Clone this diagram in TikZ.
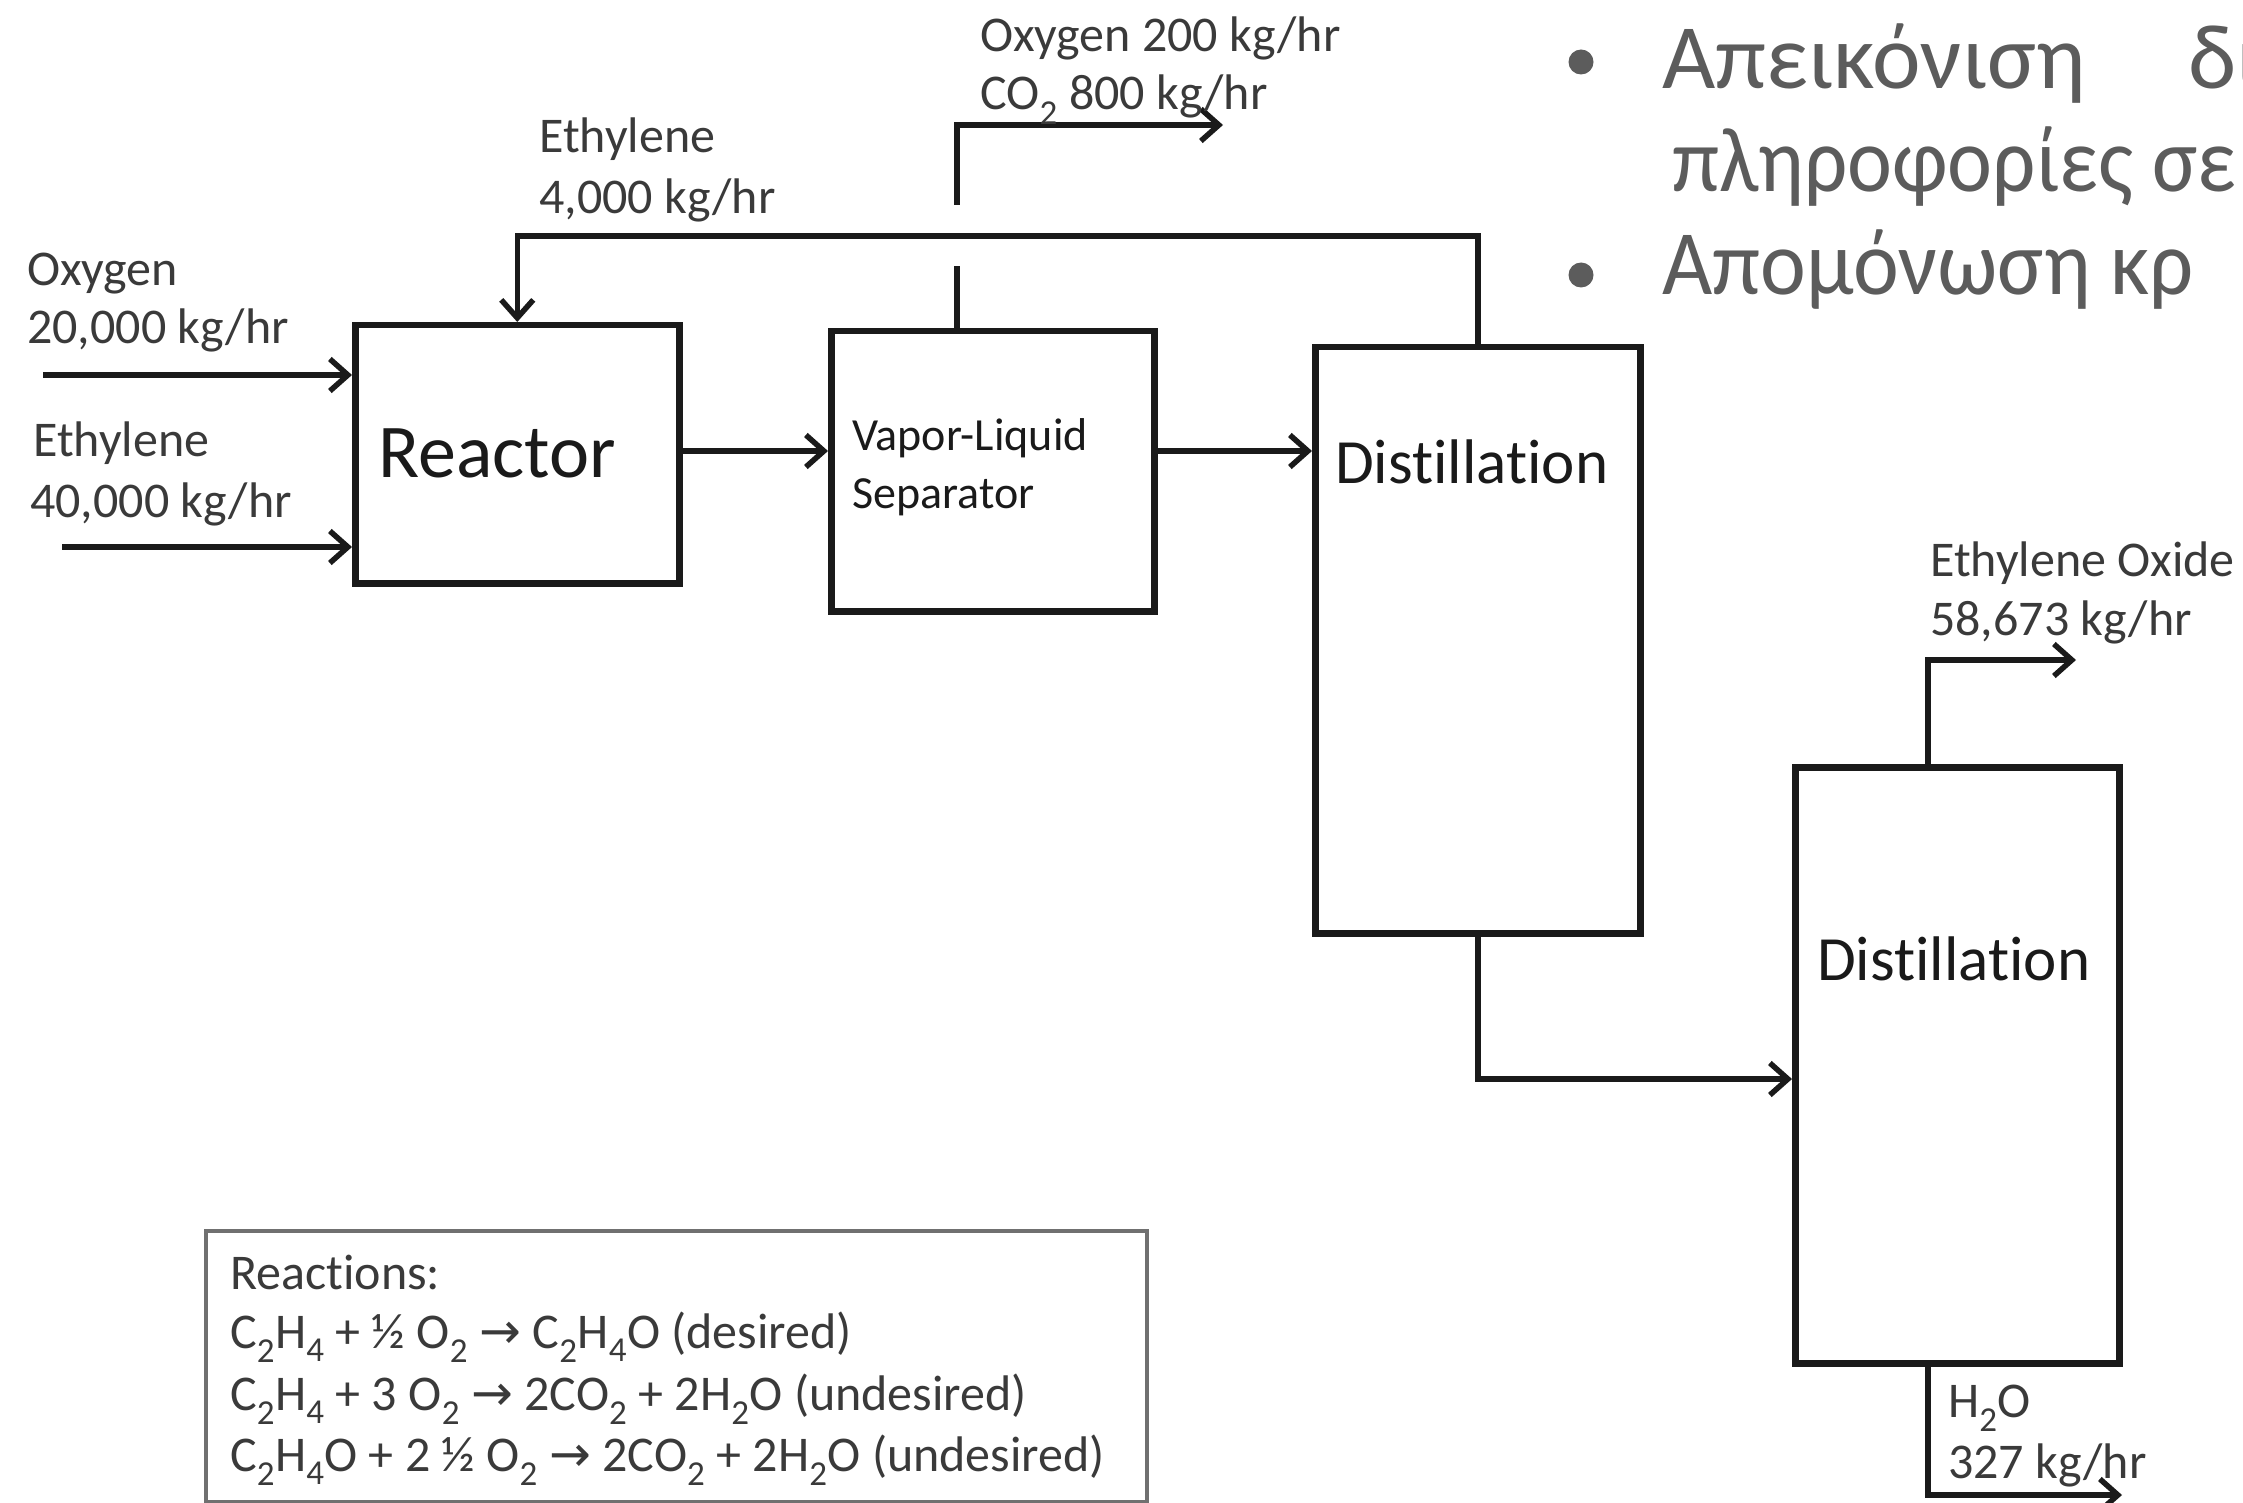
\documentclass[tikz,border=0pt]{standalone}
\usepackage{fontspec}
\setmainfont{Carlito}[Ligatures={NoCommon}]
\newfontfamily\symfont{DejaVu Sans}
\usetikzlibrary{arrows.meta,calc}
\definecolor{ink}{HTML}{1A1A1A}
\definecolor{txt}{HTML}{3A3A3A}
\definecolor{greek}{HTML}{5C5C5C}
\definecolor{rxline}{HTML}{707070}
\newcommand{\ssub}[1]{\textsubscript{#1}}
\newcommand{\rarr}{{\symfont →}}
\begin{document}
\begin{tikzpicture}[x=1pt,y=-1pt,
  unitbox/.style={draw=ink, line width=6.5pt, inner sep=0pt, anchor=north west},
  pipe/.style={draw=ink, line width=5.5pt},
  flow/.style={pipe, -{Straight Barb[length=18pt,width=32pt]}},
  lbl/.style={inner sep=0pt, anchor=base west, text=txt, font=\fontsize{50}{58}\selectfont},
  unitlbl/.style={inner sep=0pt, anchor=base west, text=ink},
  rxlbl/.style={inner sep=0pt, anchor=base west, text=txt, font=\fontsize{50}{58}\selectfont},
  grk/.style={inner sep=0pt, anchor=base west, text=greek, font=\fontsize{92}{100}\selectfont}]
\useasboundingbox (0,0) rectangle (2243,1503);
\begin{scope}
\clip (0,0) rectangle (2243,1503);

% units
\node[unitbox, minimum width=324pt, minimum height=258pt] (reactor) at (352,322) {};
\node[unitbox, minimum width=323pt, minimum height=280pt] (vl) at (828,328) {};
\node[unitbox, minimum width=325pt, minimum height=586pt] (d1) at (1312,344) {};
\node[unitbox, minimum width=324pt, minimum height=596pt] (d2) at (1792,764) {};
\node[draw=rxline, line width=3.5pt, inner sep=0pt, anchor=north west, minimum width=941pt, minimum height=271pt] (rx) at (204,1229) {};

% unit labels
\node[unitlbl, font=\fontsize{76}{80}\selectfont] (treactor) at (378,477) {Reactor};
\node[unitlbl, font=\fontsize{46}{52}\selectfont] (tvl1) at (852,450) {Vapor-Liquid};
\node[unitlbl, font=\fontsize{46}{52}\selectfont] (tvl2) at (852,508) {Separator};
\node[unitlbl, font=\fontsize{63}{70}\selectfont] (td1) at (1335,483) {Distillation};
\node[unitlbl, font=\fontsize{63}{70}\selectfont] (td2) at (1817,980) {Distillation};

% helper coordinates
\coordinate (oxstart) at (43,375);
\coordinate (etstart) at (62,547);
\coordinate (rcy) at (0,236);
\coordinate (vx) at (957,0);
\coordinate (gaplow) at (957,266);
\coordinate (gaphigh) at (957,205);
\coordinate (ventend) at (1223,125);
\coordinate (fy) at (0,1079);
\coordinate (d2x) at (1928,0);
\coordinate (eoend) at (2076,660);
\coordinate (wend) at (2122,1495);

% streams
\draw[flow] (oxstart) -- (reactor.west |- oxstart);
\draw[flow] (etstart) -- (reactor.west |- etstart);
\draw[flow] (reactor.east |- 0,451) -- (vl.west |- 0,451);
\draw[flow] (vl.east |- 0,451) -- (d1.west |- 0,451);
\draw[flow] (d1.north) |- (reactor.north |- rcy) -- (reactor.north);
\draw[pipe] (vl.north -| vx) -- (gaplow);
\draw[flow] (gaphigh) |- (ventend);
\draw[flow] (d1.south) |- (d2.west |- fy);
\draw[flow] (d2.north -| d2x) |- (eoend);
\draw[flow] (d2.south -| d2x) |- (wend);

% stream labels
\node[lbl] (lvent1) at (980,52) {Oxygen 200 kg/hr};
\node[lbl] (lvent2) at (980,110) {CO\ssub{2} 800 kg/hr};
\node[lbl] (lrc1) at (539,153) {Ethylene};
\node[lbl] (lrc2) at (539,214) {4,000 kg/hr};
\node[lbl] (lox1) at (27,286) {Oxygen};
\node[lbl] (lox2) at (27,344) {20,000 kg/hr};
\node[lbl] (let1) at (33,456) {Ethylene};
\node[lbl] (let2) at (30,517) {40,000 kg/hr};
\node[lbl] (leo1) at (1930,576) {Ethylene Oxide};
\node[lbl] (leo2) at (1930,635) {58,673 kg/hr};
\node[lbl] (lw1) at (1948,1417) {H\ssub{2}O};
\node[lbl] (lw2) at (1948,1478) {327 kg/hr};

% reactions
\node[rxlbl] (rx0) at (230,1289) {Reactions:};
\node[rxlbl] (rx1) at (230,1348) {C\ssub{2}H\ssub{4} + ½ O\ssub{2} \rarr{} C\ssub{2}H\ssub{4}O (desired)};
\node[rxlbl] (rx2) at (230,1410) {C\ssub{2}H\ssub{4} + 3 O\ssub{2} \rarr{} 2CO\ssub{2} + 2H\ssub{2}O (undesired)};
\node[rxlbl] (rx3) at (230,1471) {C\ssub{2}H\ssub{4}O + 2 ½ O\ssub{2} \rarr{} 2CO\ssub{2} + 2H\ssub{2}O (undesired)};

% slide text (cut off at right edge)
\fill[greek] (1581,62) circle (12.5pt);
\fill[greek] (1581,275) circle (12.5pt);
\node[grk] (g1) at (1662,89) {Απεικόνιση};
\node[grk] (g1b) at (2188,89) {δι};
\node[grk] (g2) at (1672,192) {\scalebox{0.925}[1]{πληροφορίες σε}};
\node[grk] (g3) at (1662,295) {\scalebox{0.943}[1]{Απομόνωση κρ}};
\end{scope}
\end{tikzpicture}
\end{document}
